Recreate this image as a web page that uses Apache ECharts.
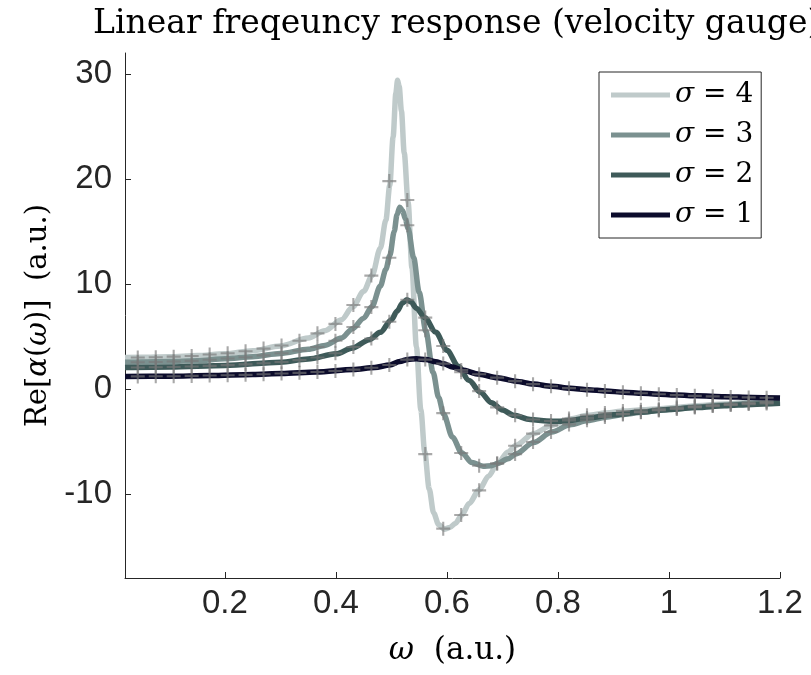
<!DOCTYPE html>
<html>
<head>
<meta charset="utf-8">
<script src="https://cdn.jsdelivr.net/npm/echarts@6/dist/echarts.min.js"></script>
<style>html,body{margin:0;padding:0;background:#fff}#chart{width:811px;height:675px}</style>
</head>
<body>
<div id="chart"></div>
<script>
// ---- data ----
const seriesNames = ['σ = 4', 'σ = 3', 'σ = 2', 'σ = 1'];
const xTickValues = [0.2, 0.4, 0.6, 0.8, 1, 1.2];
const yTickValues = [-10, 0, 10, 20, 30];

const sigma4Omega = [0.02,0.05,0.1,0.15,0.2,0.25,0.3,0.35,0.38,0.41,0.43,0.45,0.465,0.48,0.49,0.497,0.503,0.508,0.511,0.514,0.518,0.523,0.53,0.537,0.545,0.553,0.56,0.568,0.576,0.585,0.595,0.605,0.615,0.627,0.64,0.658,0.675,0.691,0.71,0.724,0.756,0.789,0.822,0.854,0.886,0.919,0.952,0.984,1.016,1.05,1.1,1.15,1.2];
const sigma4Values = [3.0,3.02,3.08,3.18,3.35,3.65,4.1,4.85,5.55,6.6,7.8,9.3,10.8,13.4,16.1,19.4,24.0,28.2,29.4,28.8,26.5,22.5,17.8,11.5,4.0,-2.0,-6.0,-9.5,-11.8,-12.9,-13.35,-13.2,-12.8,-12.0,-10.9,-9.6,-8.3,-7.1,-6.0,-5.37,-4.25,-3.46,-2.85,-2.5,-2.28,-2.1,-1.97,-1.87,-1.74,-1.6,-1.42,-1.25,-1.1];

const sigma3Omega = [0.02,0.05,0.1,0.15,0.2,0.25,0.3,0.35,0.38,0.41,0.43,0.45,0.465,0.48,0.49,0.497,0.505,0.51,0.515,0.52,0.525,0.53,0.54,0.55,0.562,0.575,0.585,0.594,0.61,0.627,0.645,0.665,0.68,0.691,0.71,0.724,0.756,0.789,0.822,0.854,0.886,0.919,0.952,0.984,1.016,1.05,1.1,1.15,1.2];
const sigma3Values = [2.55,2.56,2.61,2.7,2.88,3.08,3.38,3.78,4.15,4.85,5.75,6.75,7.85,9.8,11.4,12.7,15.0,16.6,17.3,17.0,16.2,15.3,12.5,9.2,5.5,1.6,-0.8,-2.4,-4.6,-6.1,-7.0,-7.35,-7.3,-7.1,-6.65,-6.2,-5.1,-4.1,-3.4,-3.0,-2.68,-2.42,-2.21,-2.03,-1.87,-1.71,-1.52,-1.36,-1.22];

const sigma2Omega = [0.02,0.1,0.2,0.3,0.35,0.4,0.43,0.46,0.48,0.5,0.51,0.52,0.528,0.535,0.545,0.56,0.58,0.6,0.62,0.64,0.66,0.68,0.7,0.72,0.75,0.78,0.8,0.82,0.85,0.9,0.95,1.0,1.05,1.1,1.15,1.2];
const sigma2Values = [2.05,2.1,2.25,2.55,2.85,3.35,3.9,4.7,5.4,6.6,7.4,8.2,8.5,8.3,7.7,6.8,5.4,3.7,2.2,0.8,-0.3,-1.3,-2.0,-2.5,-2.9,-3.05,-3.08,-3.0,-2.78,-2.45,-2.2,-1.95,-1.76,-1.6,-1.47,-1.36];

const sigma1Omega = [0.02,0.1,0.173,0.25,0.302,0.365,0.431,0.47,0.497,0.515,0.53,0.545,0.562,0.58,0.594,0.61,0.627,0.658,0.691,0.724,0.756,0.789,0.822,0.854,0.886,0.919,0.952,0.984,1.016,1.05,1.1,1.15,1.2];
const sigma1Values = [1.2,1.22,1.28,1.38,1.47,1.62,1.85,2.05,2.28,2.62,2.82,2.88,2.8,2.6,2.4,2.1,1.8,1.4,1.08,0.75,0.47,0.26,0.08,-0.06,-0.19,-0.31,-0.41,-0.5,-0.58,-0.65,-0.73,-0.8,-0.86];

const markerOmega = [0.043,0.0754,0.1077,0.1401,0.1725,0.2049,0.2372,0.2696,0.302,0.3343,0.3667,0.3991,0.4314,0.4638,0.4962,0.5286,0.5609,0.5933,0.6257,0.658,0.6904,0.7228,0.7551,0.7875,0.8199,0.8523,0.8846,0.917,0.9494,0.9817,1.0141,1.0465,1.0788,1.1112,1.1436,1.1759];
const marker4 = [3.0,3.03,3.08,3.14,3.28,3.4,3.6,3.85,4.15,4.6,5.3,6.2,8.0,10.8,19.8,18.0,-6.2,-13.3,-12.0,-9.65,-7.1,-5.4,-4.25,-3.46,-2.82,-2.5,-2.29,-2.1,-1.97,-1.87,-1.74,-1.61,-1.5,-1.4,-1.3,-1.2];
const marker3 = [2.55,2.57,2.62,2.68,2.78,2.9,3.02,3.2,3.4,3.65,4.0,4.6,5.9,7.8,12.5,15.6,5.6,-2.3,-6.1,-7.3,-7.1,-6.2,-5.05,-4.1,-3.37,-2.98,-2.67,-2.42,-2.22,-2.03,-1.87,-1.72,-1.6,-1.48,-1.38,-1.28];
const marker2 = [2.05,2.07,2.1,2.15,2.2,2.27,2.35,2.45,2.57,2.75,3.0,3.4,4.0,4.8,6.4,8.5,6.8,4.1,1.6,-0.2,-1.75,-2.5,-2.9,-3.05,-3.0,-2.75,-2.5,-2.35,-2.2,-2.03,-1.88,-1.75,-1.63,-1.52,-1.44,-1.38];
const marker1 = [1.2,1.21,1.22,1.25,1.28,1.31,1.35,1.4,1.47,1.54,1.62,1.72,1.85,2.02,2.28,2.8,2.8,2.42,1.8,1.4,1.08,0.75,0.46,0.26,0.08,-0.06,-0.19,-0.31,-0.41,-0.5,-0.58,-0.65,-0.7,-0.75,-0.8,-0.84];

// ---- build chart ----
const colors = ['#bfcaca', '#7b9190', '#3e5a59', '#0c0c2c'];
const lineOmegas = [sigma4Omega, sigma3Omega, sigma2Omega, sigma1Omega];
const lineValues = [sigma4Values, sigma3Values, sigma2Values, sigma1Values];
const markerValues = [marker4, marker3, marker2, marker1];

const zip = (xs, ys) => xs.map((x, i) => [x, ys[i]]);
const serif = 'DejaVu Serif';
const sans = 'Liberation Sans';

const series = [];
seriesNames.forEach((name, i) => {
  series.push({
    name: name,
    type: 'line',
    data: zip(lineOmegas[i], lineValues[i]),
    symbol: 'none',
    smooth: 0.3,
    smoothMonotone: 'x',
    color: colors[i],
    lineStyle: { width: 5.5, color: colors[i] },
    z: 2 + i
  });
});
seriesNames.forEach((name, i) => {
  series.push({
    name: name + ' markers',
    type: 'scatter',
    data: zip(markerOmega, markerValues[i]),
    symbol: 'path://M4.25,0h1.5v4.25h4.25v1.5h-4.25v4.25h-1.5v-4.25h-4.25v-1.5h4.25z',
    symbolSize: 14,
    itemStyle: { color: 'rgba(120,120,120,0.8)' },
    z: 10
  });
});

const nameRich = (size) => ({
  i: { fontFamily: serif, fontStyle: 'italic', fontSize: size, color: '#000' },
  r: { fontFamily: serif, fontSize: size, color: '#000' }
});

const chart = echarts.init(document.getElementById('chart'), null, { renderer: 'canvas' });
chart.setOption({
  animation: false,
  backgroundColor: '#fff',
  title: {
    text: 'Linear freqeuncy response (velocity gauge)',
    left: 88,
    top: 3,
    textStyle: { fontFamily: serif, fontSize: 33, fontWeight: 'normal', color: '#000' }
  },
  grid: { left: 125, right: 31, top: 53, bottom: 97 },
  xAxis: {
    type: 'value',
    min: 0.02,
    max: 1.2,
    axisLine: { onZero: false, lineStyle: { color: '#262626', width: 1 } },
    axisTick: { inside: true, length: 6, customValues: xTickValues, lineStyle: { color: '#262626' } },
    axisLabel: { customValues: xTickValues, fontFamily: sans, fontSize: 33, color: '#262626', margin: 9 },
    splitLine: { show: false },
    name: '{i|ω}{r|  (a.u.)}',
    nameLocation: 'middle',
    nameGap: 57,
    nameTextStyle: { rich: nameRich(31) }
  },
  yAxis: {
    type: 'value',
    min: -18,
    max: 32,
    axisLine: { onZero: false, lineStyle: { color: '#262626', width: 1 } },
    axisTick: { inside: true, length: 6, customValues: yTickValues, lineStyle: { color: '#262626' } },
    axisLabel: { customValues: yTickValues, fontFamily: sans, fontSize: 33, color: '#262626', margin: 13 },
    splitLine: { show: false },
    name: '{r|Re[}{i|α}{r|(}{i|ω}{r|)]  (a.u.)}',
    nameLocation: 'middle',
    nameGap: 67,
    nameTextStyle: { rich: nameRich(29) }
  },
  legend: {
    data: seriesNames,
    orient: 'vertical',
    left: 599,
    top: 72,
    padding: [8, 8, 8, 12],
    itemGap: 10,
    itemWidth: 59,
    itemHeight: 5,
    icon: 'rect',
    borderColor: '#262626',
    borderWidth: 1,
    borderRadius: 0,
    backgroundColor: '#fff',
    formatter: (name) => '{s|σ}{t|' + name.slice(1) + '}',
    textStyle: {
      lineHeight: 30,
      rich: {
        s: { fontFamily: serif, fontStyle: 'italic', fontSize: 28, color: '#000', lineHeight: 30 },
        t: { fontFamily: serif, fontSize: 28, color: '#000', lineHeight: 30 }
      }
    }
  },
  series: series
});
</script>
</body>
</html>
